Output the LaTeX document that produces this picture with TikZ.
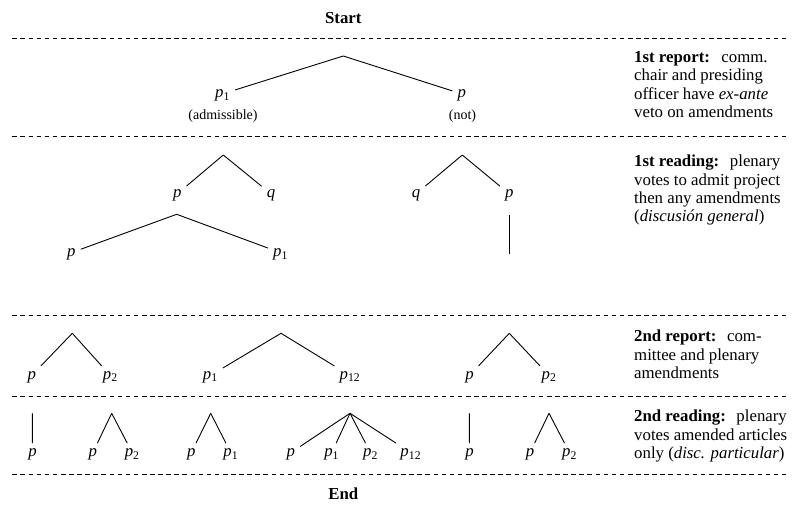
\documentclass[tikz,border=0pt]{standalone}
\usepackage{fontspec}
\setmainfont{Liberation Serif}
\newcommand\pl[1]{\textit{p}\textsubscript{#1}}
\newcommand\pp{\textit{p}}
\newcommand\qq{\textit{q}}
\begin{document}
\begin{tikzpicture}[x=1pt,y=-1pt,
  every node/.style={font=\fontsize{16.8}{18.4}\selectfont},
  lab/.style={anchor=base, inner xsep=5pt, inner ysep=2pt, text height=11.2pt, text depth=3.6pt},
  branch/.style={line width=0.9pt},
  sepline/.style={line width=0.9pt, dash pattern=on 4.6pt off 3.5pt},
  note/.style={anchor=base west, inner sep=0pt},
  small/.style={anchor=base, inner sep=0pt, font=\fontsize{14}{16}\selectfont},
  title/.style={anchor=base, inner sep=0pt, font=\fontsize{16.8}{18.4}\selectfont\bfseries}]
\useasboundingbox (0,0) rectangle (801,510);

% separators
\foreach \yy in {38.3,136.7,315.7,396,474.3}
  \draw[sepline] (12.3,\yy) -- (788.3,\yy);

\node[title] (start) at (343.3,24) {Start};
\node[title] (end) at (343.3,500) {End};

% row 1
\coordinate (a1) at (343.3,56);
\node[lab] (r1l) at (222.5,97.7) {\pl{1}};
\node[lab] (r1r) at (461.7,97.7) {\pp};
\node[small] (adm) at (223,119.5) {(admissible)};
\node[small] (not) at (462.5,119.5) {(not)};
\draw[branch] (a1) -- (r1l);
\draw[branch] (a1) -- (r1r);

% row 2
\coordinate (a2a) at (223.3,155);
\node[lab] (r2ap) at (177.2,197.7) {\pp};
\node[lab] (r2aq) at (271,197.7) {\qq};
\draw[branch] (a2a) -- (r2ap);
\draw[branch] (a2a) -- (r2aq);
\coordinate (a2b) at (462.3,155);
\node[lab] (r2bq) at (416,197.7) {\qq};
\node[lab] (r2bp) at (509.3,197.7) {\pp};
\draw[branch] (a2b) -- (r2bq);
\draw[branch] (a2b) -- (r2bp);
\coordinate (a2c) at (176.7,214.3);
\node[lab] (r2cp) at (71.3,256.5) {\pp};
\node[lab] (r2cp1) at (280.5,256.5) {\pl{1}};
\draw[branch] (a2c) -- (r2cp);
\draw[branch] (a2c) -- (r2cp1);
\coordinate (a2d) at (509.3,215);
\coordinate (e2d) at (509.3,254);
\draw[branch] (a2d) -- (e2d);

% row 3
\coordinate (a3a) at (72.3,333.3);
\node[lab] (r3ap) at (31.7,379.3) {\pp};
\node[lab] (r3ap2) at (110.3,379.3) {\pl{2}};
\draw[branch] (a3a) -- (r3ap);
\draw[branch] (a3a) -- (r3ap2);
\coordinate (a3b) at (281,333.3);
\node[lab] (r3bp1) at (210.3,379.3) {\pl{1}};
\node[lab] (r3bp12) at (350,379.3) {\pl{12}};
\draw[branch] (a3b) -- (r3bp1);
\draw[branch] (a3b) -- (r3bp12);
\coordinate (a3c) at (509.3,333.3);
\node[lab] (r3cp) at (469.5,379.3) {\pp};
\node[lab] (r3cp2) at (549,379.3) {\pl{2}};
\draw[branch] (a3c) -- (r3cp);
\draw[branch] (a3c) -- (r3cp2);

% row 4
\coordinate (v1) at (32.3,413.3);
\node[lab] (r4v1) at (32.5,456.5) {\pp};
\draw[branch] (v1) -- (r4v1);
\coordinate (a4a) at (111.7,413.3);
\node[lab] (r4ap) at (92.8,456.5) {\pp};
\node[lab] (r4ap2) at (132.2,456.5) {\pl{2}};
\draw[branch] (a4a) -- (r4ap);
\draw[branch] (a4a) -- (r4ap2);
\coordinate (a4b) at (210.7,413.3);
\node[lab] (r4bp) at (191.3,456.5) {\pp};
\node[lab] (r4bp1) at (230.8,456.5) {\pl{1}};
\draw[branch] (a4b) -- (r4bp);
\draw[branch] (a4b) -- (r4bp1);
\coordinate (a4c) at (350,413.3);
\node[lab] (r4cp) at (290.8,456.5) {\pp};
\node[lab] (r4cp1) at (331.7,456.5) {\pl{1}};
\node[lab] (r4cp2) at (370.5,456.5) {\pl{2}};
\node[lab] (r4cp12) at (410.8,456.5) {\pl{12}};
\draw[branch] (a4c) -- (r4cp);
\draw[branch] (a4c) -- (r4cp1);
\draw[branch] (a4c) -- (r4cp2);
\draw[branch] (a4c) -- (r4cp12);
\coordinate (v2) at (469.3,413.3);
\node[lab] (r4v2) at (469.5,456.5) {\pp};
\draw[branch] (v2) -- (r4v2);
\coordinate (a4d) at (549,413.3);
\node[lab] (r4dp) at (530,456.5) {\pp};
\node[lab] (r4dp2) at (569.5,456.5) {\pl{2}};
\draw[branch] (a4d) -- (r4dp);
\draw[branch] (a4d) -- (r4dp2);

% notes
\node[note] (n1) at (634,62.3) {\begin{tabular}[t]{@{}l@{}}\textbf{1st report:}\hspace{0.35em} comm.\\ chair and presiding\\ officer have \textit{ex-ante}\\ veto on amendments\end{tabular}};
\node[note] (n2) at (634,166.7) {\begin{tabular}[t]{@{}l@{}}\textbf{1st reading:}\hspace{0.3em} plenary\\ votes to admit project\\ then any amendments\\ (\textit{discusión general})\end{tabular}};
\node[note] (n3) at (634,341.7) {\begin{tabular}[t]{@{}l@{}}\textbf{2nd report:}\hspace{0.3em} com-\\ mittee and plenary\\ amendments\end{tabular}};
\node[note] (n4) at (634,421.7) {\begin{tabular}[t]{@{}l@{}}\textbf{2nd reading:}\hspace{0.3em} plenary\\ votes amended articles\\ only (\textit{disc. particular})\end{tabular}};
\end{tikzpicture}
\end{document}
